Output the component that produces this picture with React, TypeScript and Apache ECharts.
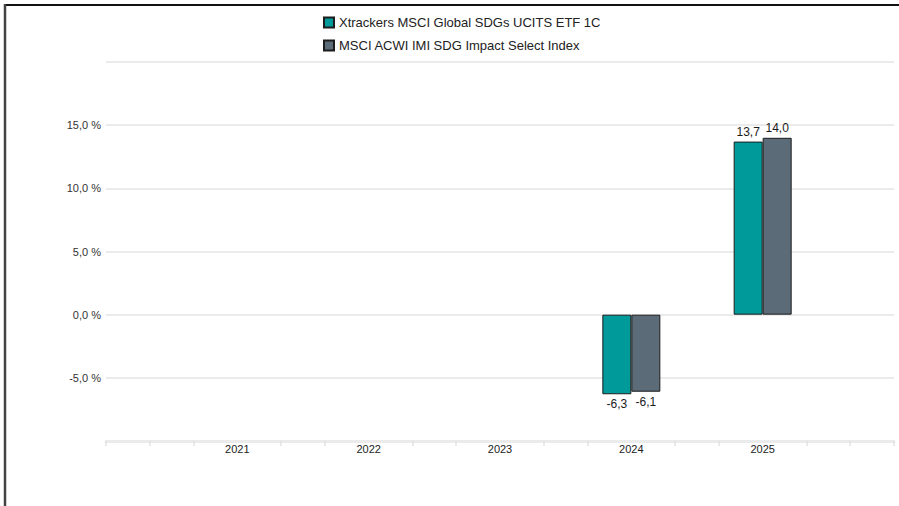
import React, { useEffect, useRef } from "react";
import * as echarts from "echarts";

const years = ["2021", "2022", "2023", "2024", "2025"];
const fundName = "Xtrackers MSCI Global SDGs UCITS ETF 1C";
const indexName = "MSCI ACWI IMI SDG Impact Select Index";
const fundReturns: (number | null)[] = [null, null, null, -6.3, 13.7];
const indexReturns: (number | null)[] = [null, null, null, -6.1, 14.0];
const yMin = -10;
const yMax = 20;
const yStep = 5;

// axis slots: thirds of a year, years sit on every third slot
const SUB = 3;
const slotCount = (years.length + 1) * SUB + 1;
const slotYear = (i: number) =>
  i % SUB === 0 && i > 0 && i < slotCount - 1 ? i / SUB - 1 : -1;
const slots = Array.from({ length: slotCount }, (_, i) =>
  slotYear(i) >= 0 ? years[slotYear(i)] : `_${i}`
);

const fmt = (v: number) => v.toFixed(1).replace(".", ",");

const toSeriesData = (vals: (number | null)[]) =>
  slots.map((_, i) => {
    const y = slotYear(i);
    const v = y >= 0 ? vals[y] : null;
    if (v === null || v === undefined) return null;
    return {
      value: v,
      label: { position: v >= 0 ? "top" : "bottom" },
    };
  });

export default function App() {
  const ref = useRef<HTMLDivElement>(null);
  useEffect(() => {
    if (!ref.current) return;
    const chart = echarts.init(ref.current, undefined, { renderer: "svg" });
    const labelCfg = {
      show: true,
      distance: 4,
      fontSize: 12,
      color: "#1a1a1a",
      fontFamily: "Liberation Sans, Arial, sans-serif",
      formatter: (p: any) => fmt(p.value),
    };
    chart.setOption({
      animation: false,
      backgroundColor: "#fff",
      textStyle: { fontFamily: "Liberation Sans, Arial, sans-serif" },
      legend: {
        orient: "vertical",
        left: 318,
        top: 10,
        icon: "rect",
        itemWidth: 10,
        itemHeight: 10,
        itemGap: 8,
        textStyle: { fontSize: 13, color: "#222", lineHeight: 15 },
        data: [fundName, indexName],
      },
      grid: { left: 106, right: 5, top: 62, bottom: 65, containLabel: false },
      xAxis: {
        type: "category",
        data: slots,
        boundaryGap: false,
        axisLine: { show: true, onZero: false, lineStyle: { color: "#ebebeb", width: 3 } },
        axisTick: {
          show: true,
          length: 5,
          interval: (i: number) => slotYear(i) < 0,
          lineStyle: { color: "#e2e2e2", width: 1.5 },
        },
        axisLabel: {
          interval: 0,
          margin: 2,
          fontSize: 11,
          color: "#222",
          formatter: (v: string) => (v.startsWith("_") ? "" : v),
        },
        splitLine: { show: false },
      },
      yAxis: {
        type: "value",
        min: yMin,
        max: yMax,
        interval: yStep,
        axisLine: { show: false },
        axisTick: { show: false },
        axisLabel: {
          margin: 5,
          fontSize: 11,
          color: "#333",
          formatter: (v: number) => (v === yMin || v === yMax ? "" : fmt(v) + " %"),
        },
        splitLine: { show: true, lineStyle: { color: "#e4e4e4", width: 1.5 } },
      },
      series: [
        {
          name: fundName,
          type: "bar",
          data: toSeriesData(fundReturns),
          barWidth: 29,
          barGap: "0%",
          itemStyle: { color: "#009a9b", borderColor: "#1c1c1c", borderWidth: 1 },
          label: labelCfg,
        },
        {
          name: indexName,
          type: "bar",
          data: toSeriesData(indexReturns),
          barWidth: 29,
          barGap: "0%",
          itemStyle: { color: "#5b6b78", borderColor: "#1c1c1c", borderWidth: 1 },
          label: labelCfg,
        },
      ],
      graphic: [
        {
          type: "line",
          shape: { x1: 4, y1: 5, x2: 899, y2: 5 },
          style: { stroke: "#111", lineWidth: 2 },
          silent: true,
        },
        {
          type: "line",
          shape: { x1: 5, y1: 4, x2: 5, y2: 506 },
          style: { stroke: "#444", lineWidth: 2.5 },
          silent: true,
        },
      ],
    });
    return () => chart.dispose();
  }, []);
  return (
    <div
      ref={ref}
      style={{ position: "absolute", left: 0, top: 0, width: 899, height: 506 }}
    />
  );
}
